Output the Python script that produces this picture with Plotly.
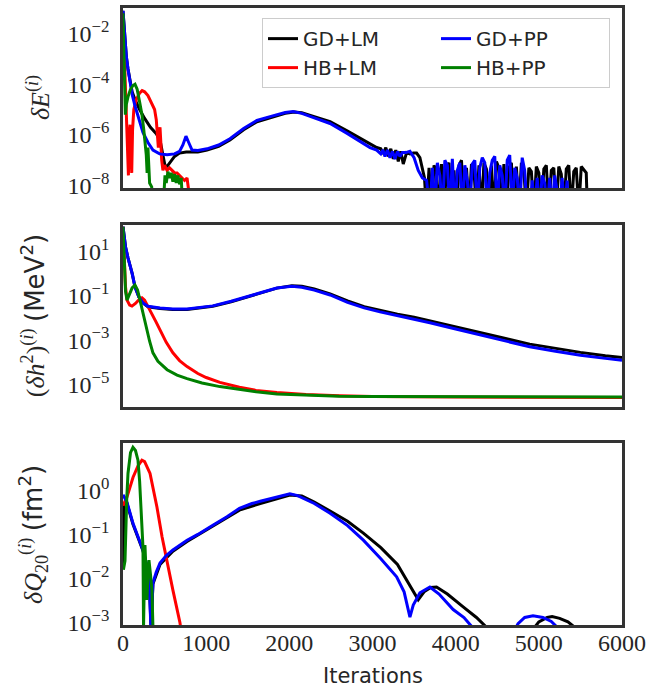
import numpy as np
import plotly.graph_objects as go

# ---------------- data (log10 of values) ----------------
# Top panel: delta E
dE_GDLM_it = [0, 20, 40, 60, 84, 110, 144, 200, 260, 330, 400, 445, 480, 510, 540, 580, 620, 680, 760, 830, 900,
              1010, 1150, 1286, 1450, 1610, 1800, 1950, 2060, 2150, 2300, 2490, 2700, 2970, 3050, 3100, 3130, 3160,
              3190, 3220, 3250, 3280, 3310, 3340, 3370, 3410, 3450, 3490, 3530, 3570, 3600, 3625, 3650,
              3680, 3710, 3740, 3770, 3800, 3830, 3860, 3890, 3920, 3950, 3980, 4010, 4040, 4070, 4100, 4130, 4160,
              4190, 4220, 4250, 4280, 4310, 4340, 4370, 4400, 4430, 4460, 4490, 4520, 4550, 4580, 4610, 4640, 4670,
              4700, 4730, 4760, 4790, 4820, 4850, 4880, 4910, 4940, 4970, 5000, 5030, 5060, 5090, 5120, 5150, 5180,
              5210, 5240, 5270, 5300, 5330, 5360, 5390, 5420, 5450, 5480, 5510, 5540, 5570, 5585]
dE_GDLM_lg = [-1.1, -2.2, -2.9, -3.4, -3.9, -4.3, -4.6, -5.0, -5.35, -5.7, -5.95, -6.2, -6.8, -7.3, -7.2, -7.0, -6.85,
              -6.72, -6.68, -6.68, -6.68, -6.6, -6.45, -6.2, -5.8, -5.48, -5.3, -5.15, -5.1, -5.13, -5.28, -5.48, -5.85,
              -6.35, -6.5, -6.55, -6.75, -6.5, -6.85, -6.55, -6.95, -6.6, -7.05, -6.65, -7.15, -6.7, -6.75, -6.72, -6.72,
              -6.9, -7.3, -7.7, -9.0,
              -7.3, -9.0, -7.2, -7.5, -9.0, -7.15, -9.0, -7.3, -7.1, -9.0, -7.4, -9.0, -7.2, -7.0, -9.0, -7.3, -9.0,
              -7.15, -7.4, -9.0, -7.2, -9.0, -7.1, -7.35, -9.0, -7.2, -9.0, -7.05, -7.3, -9.0, -7.15, -9.0, -7.3, -7.1,
              -9.0, -7.25, -9.0, -7.1, -7.4, -9.0, -7.3, -7.45, -9.0, -7.25, -7.5, -9.0, -7.35, -7.2, -9.0, -7.4, -7.3,
              -9.0, -7.25, -7.55, -9.0, -7.35, -7.2, -9.0, -7.45, -7.3, -9.0, -7.25, -7.4, -7.5, -9.0]

dE_HBLM_it = [0, 15, 30, 45, 55, 65, 75, 85, 95, 105, 115, 130, 160, 200, 230, 260, 300, 340, 380, 400, 415, 425,
              435, 445, 455, 465, 480, 500, 530, 560, 590, 620, 650, 680, 710, 740, 770, 790, 800]
dE_HBLM_lg = [-1.3, -2.8, -4.0, -5.2, -6.5, -7.6, -6.0, -5.6, -6.8, -7.5, -5.8, -5.0, -4.6, -4.35, -4.25, -4.3, -4.45,
              -4.7, -5.0, -5.4, -6.2, -6.5, -5.9, -5.7, -6.3, -7.0, -7.4, -7.2, -7.4, -7.3, -7.4, -7.5, -7.5, -7.6, -7.7,
              -7.8, -7.7, -8.2, -9.0]

dE_GDPP_it = [0, 20, 40, 60, 84, 110, 144, 190, 240, 300, 360, 440, 530, 620, 680, 720, 757, 790, 830, 900, 1010,
              1150, 1286, 1450, 1610, 1800, 1950, 2045, 2150, 2300, 2490, 2700, 2970, 3050, 3100, 3125, 3150, 3180,
              3210, 3240, 3270, 3300, 3330, 3360, 3400, 3450, 3500, 3550, 3600, 3650, 3690,
              3720, 3750, 3780, 3810, 3840, 3870, 3900, 3930, 3960, 3990, 4020, 4050, 4080, 4110, 4140, 4170, 4200,
              4230, 4260, 4290, 4320, 4350, 4380, 4410, 4440, 4470, 4500, 4530, 4560, 4590, 4620, 4650, 4680, 4710,
              4740, 4770, 4800, 4830, 4860, 4890, 4920, 4950, 4980, 5010, 5040, 5070, 5100, 5130, 5160, 5190, 5220,
              5250, 5280, 5310, 5340, 5355]
dE_GDPP_lg = [-1.1, -2.2, -2.9, -3.4, -3.9, -4.4, -4.85, -5.4, -5.9, -6.3, -6.6, -6.75, -6.78, -6.75, -6.65, -6.4,
              -6.05, -6.3, -6.6, -6.62, -6.55, -6.4, -6.15, -5.75, -5.43, -5.25, -5.12, -5.08, -5.15, -5.33, -5.55,
              -5.95, -6.5, -6.6, -6.75, -6.6, -6.85, -6.6, -6.9, -6.65, -6.95, -6.65, -6.85, -6.7, -6.7, -6.65, -6.9,
              -7.4, -7.7, -7.8, -9.0,
              -7.3, -9.0, -7.1, -7.6, -9.0, -7.0, -7.2, -9.0, -6.95, -9.0, -7.4, -7.1, -9.0, -7.2, -7.8, -9.0, -7.15,
              -7.0, -9.0, -7.3, -6.9, -7.1, -9.0, -7.5, -7.0, -6.85, -9.0, -7.2, -7.6, -9.0, -7.0, -6.8, -9.0, -7.3,
              -7.7, -9.0, -6.9, -7.4, -9.0, -9.0, -7.8, -9.0, -7.7, -9.0, -7.6, -7.9, -9.0, -7.7, -9.0, -7.6, -8.2,
              -9.0, -7.7, -9.0, -7.8, -9.0]

dE_HBPP_it = [0, 10, 20, 28, 40, 60, 90, 120, 144, 170, 200, 228, 250, 264, 280, 290, 300, 310, 320, 345, 360,
              480, 505, 520, 540, 560, 580, 600, 620, 640, 660, 680, 700, 720]
dE_HBPP_lg = [-1.2, -3.0, -4.5, -5.2, -4.8, -4.5, -4.2, -4.05, -4.0, -4.2, -4.7, -5.2, -5.8, -6.2, -6.8, -7.5, -6.5,
              -7.2, -7.9, -8.05, -9.0, -9.0, -7.6, -7.9, -7.45, -7.7, -7.5, -7.85, -7.55, -7.9, -7.6, -7.95, -7.7, -9.0]

# Middle panel: (delta h^2)
h2_GDLM_it = [0, 30, 60, 84, 110, 144, 190, 240, 300, 445, 600, 770, 900, 1080, 1300, 1490, 1700, 1850, 2030, 2150,
              2300, 2490, 2700, 2900, 3090, 3300, 3500, 3690, 4000, 4290, 4600, 4890, 5200, 5500, 5800, 6000]
h2_GDLM_lg = [2.1, 1.2, 0.7, 0.4, 0.0, -0.6, -1.05, -1.33, -1.5, -1.58, -1.62, -1.62, -1.57, -1.48, -1.28, -1.08,
              -0.83, -0.66, -0.56, -0.58, -0.7, -0.92, -1.24, -1.5, -1.67, -1.83, -1.97, -2.13, -2.4, -2.65, -2.93,
              -3.18, -3.38, -3.55, -3.7, -3.78]
h2_HBLM_it = [0, 15, 30, 48, 80, 108, 150, 200, 228, 260, 325, 400, 445, 520, 600, 680, 770, 900, 1000, 1165, 1400,
              1600, 1850, 2200, 2600, 3000, 4000, 5000, 6000]
h2_HBLM_lg = [2.1, 0.5, -0.6, -1.2, -1.42, -1.47, -1.35, -1.15, -1.1, -1.2, -1.64, -2.2, -2.54, -3.1, -3.57, -3.92,
              -4.19, -4.5, -4.68, -4.9, -5.12, -5.26, -5.36, -5.45, -5.5, -5.53, -5.56, -5.57, -5.58]
h2_GDPP_it = [0, 30, 60, 84, 110, 144, 190, 240, 300, 445, 600, 770, 900, 1080, 1300, 1490, 1700, 1850, 2030, 2150,
              2300, 2490, 2700, 2900, 3090, 3300, 3500, 3690, 4000, 4290, 4600, 4890, 5200, 5500, 5800, 6000]
h2_GDPP_lg = [2.1, 1.2, 0.7, 0.4, 0.0, -0.6, -1.05, -1.33, -1.48, -1.56, -1.6, -1.6, -1.55, -1.46, -1.25, -1.05,
              -0.8, -0.66, -0.58, -0.62, -0.75, -0.97, -1.3, -1.55, -1.73, -1.9, -2.05, -2.22, -2.5, -2.76, -3.04,
              -3.3, -3.5, -3.68, -3.82, -3.9]
h2_HBPP_it = [0, 15, 30, 48, 80, 110, 144, 175, 204, 240, 288, 320, 360, 420, 530, 650, 770, 950, 1165, 1400, 1600,
              1850, 2200, 2600, 3000, 4000, 5000, 6000]
h2_HBPP_lg = [2.1, 0.3, -0.8, -1.2, -0.95, -0.65, -0.52, -0.75, -1.2, -1.8, -2.54, -3.05, -3.57, -3.95, -4.33, -4.57,
              -4.73, -4.93, -5.09, -5.22, -5.32, -5.42, -5.48, -5.52, -5.54, -5.55, -5.56, -5.56]

# Bottom panel: delta Q20
q_GDLM_it = [0, 10, 48, 120, 180, 240, 300, 320, 337, 345, 360, 445, 600, 770, 1080, 1400, 1650, 1800, 2007, 2150,
             2300, 2490, 2700, 2890, 3100, 3300, 3410, 3500, 3550, 3620, 3700, 3770, 3900, 4090, 4250, 4370, 4950,
             5000, 5100, 5160, 5250, 5350, 5430]
q_GDLM_lg = [-1.7, -0.3, -0.3, -0.77, -1.07, -1.37, -1.82, -2.3, -3.1, -2.6, -2.12, -1.68, -1.38, -1.16, -0.82,
             -0.45, -0.3, -0.22, -0.11, -0.13, -0.27, -0.47, -0.7, -0.97, -1.3, -1.68, -2.03, -2.3, -2.48, -2.3, -2.2,
             -2.19, -2.35, -2.64, -2.88, -3.1, -3.1, -2.98, -2.88, -2.86, -2.9, -2.98, -3.1]
q_HBLM_it = [0, 48, 120, 180, 228, 260, 325, 370, 408, 470, 530, 600, 685, 700]
q_HBLM_lg = [-0.35, -0.15, 0.29, 0.55, 0.68, 0.65, 0.38, 0.0, -0.38, -1.06, -1.65, -2.26, -3.0, -3.2]
q_GDPP_it = [0, 48, 120, 180, 240, 300, 320, 337, 345, 360, 400, 445, 520, 600, 770, 900, 1080, 1250, 1400, 1550,
             1650, 1800, 2007, 2100, 2300, 2490, 2700, 2890, 3100, 3290, 3380, 3450, 3490, 3570, 3690, 3800, 3970,
             4100, 4200, 4700, 4750, 4830, 4930, 5050, 5150, 5220]
q_GDPP_lg = [-0.1, -0.27, -0.75, -1.05, -1.35, -1.8, -2.3, -3.2, -2.6, -2.1, -1.85, -1.65, -1.48, -1.35, -1.13,
             -1.0, -0.79, -0.6, -0.41, -0.3, -0.25, -0.18, -0.08, -0.12, -0.3, -0.52, -0.8, -1.13, -1.55, -1.96, -2.3,
             -2.87, -2.6, -2.32, -2.19, -2.35, -2.7, -2.88, -3.1, -3.2, -3.02, -2.88, -2.84, -2.88, -2.97, -3.1]
q_HBPP_it = [5, 24, 45, 60, 90, 120, 150, 180, 200, 216, 240, 247, 255, 264, 276, 288, 300, 312, 330, 348, 360]
q_HBPP_lg = [-1.8, -1.6, -0.2, 0.38, 0.85, 0.97, 0.9, 0.68, 0.2, -0.38, -1.28, -3.1, -1.5, -1.24, -1.8, -2.48, -1.9,
             -1.58, -1.9, -2.26, -3.1]

methods = ["GD+LM", "HB+LM", "GD+PP", "HB+PP"]
colors = {"GD+LM": "#000000", "HB+LM": "#ff0000", "GD+PP": "#0000ff", "HB+PP": "#008000"}
ranks = {"GD+LM": 1, "GD+PP": 2, "HB+LM": 3, "HB+PP": 4}

panels = [
    ("y", {"GD+LM": (dE_GDLM_it, dE_GDLM_lg), "HB+LM": (dE_HBLM_it, dE_HBLM_lg),
           "GD+PP": (dE_GDPP_it, dE_GDPP_lg), "HB+PP": (dE_HBPP_it, dE_HBPP_lg)}),
    ("y2", {"GD+LM": (h2_GDLM_it, h2_GDLM_lg), "HB+LM": (h2_HBLM_it, h2_HBLM_lg),
            "GD+PP": (h2_GDPP_it, h2_GDPP_lg), "HB+PP": (h2_HBPP_it, h2_HBPP_lg)}),
    ("y3", {"GD+LM": (q_GDLM_it, q_GDLM_lg), "HB+LM": (q_HBLM_it, q_HBLM_lg),
            "GD+PP": (q_GDPP_it, q_GDPP_lg), "HB+PP": (q_HBPP_it, q_HBPP_lg)}),
]

fig = go.Figure()
for pi, (yax, data) in enumerate(panels):
    xax = "x" if yax == "y" else "x" + yax[1:]
    for m in methods:
        it, lg = data[m]
        fig.add_trace(go.Scatter(
            x=it, y=10 ** np.array(lg, dtype=float), mode="lines", name=m,
            line=dict(color=colors[m], width=3), xaxis=xax, yaxis=yax,
            showlegend=(pi == 0), legendrank=ranks[m]))

serif = "Liberation Serif"
sans = "DejaVu Sans"
tick_font = dict(family=serif, size=24, color="#262626")
axcommon = dict(showline=True, mirror=True, linecolor="#333333", linewidth=2.5, showgrid=False,
                zeroline=False, ticks="", tickfont=tick_font)

def pw(e):
    return "10<sup>" + (str(e) if e >= 0 else "\u2212" + str(-e)) + "</sup>"

top_ticks = [-2, -4, -6, -8]
mid_ticks = [1, -1, -3, -5]
bot_ticks = [0, -1, -2, -3]
x_ticks = [0, 1000, 2000, 3000, 4000, 5000, 6000]

fig.update_layout(
    width=667, height=688, margin=dict(l=123, r=45, t=7, b=63),
    plot_bgcolor="white", paper_bgcolor="white", showlegend=True,
    xaxis=dict(domain=[0, 1], anchor="y", range=[0, 6000], showticklabels=False, **axcommon),
    xaxis2=dict(domain=[0, 1], anchor="y2", range=[0, 6000], showticklabels=False, **axcommon),
    xaxis3=dict(domain=[0, 1], anchor="y3", range=[0, 6000], tickvals=x_ticks,
                ticktext=[str(v) for v in x_ticks], ticklabelstandoff=-6, **axcommon),
    yaxis=dict(domain=[0.707, 0.998], type="log", range=[-8.1, -1.0], ticklabelstandoff=6,
               tickvals=[10.0 ** e for e in top_ticks], ticktext=[pw(e) for e in top_ticks], **axcommon),
    yaxis2=dict(domain=[0.353, 0.647], type="log", range=[-6.0, 2.17], ticklabelstandoff=6,
                tickvals=[10.0 ** e for e in mid_ticks], ticktext=[pw(e) for e in mid_ticks], **axcommon),
    yaxis3=dict(domain=[0.0, 0.2945], type="log", range=[-3.05, 1.07], ticklabelstandoff=6,
                tickvals=[10.0 ** e for e in bot_ticks], ticktext=[pw(e) for e in bot_ticks], **axcommon),
    legend=dict(orientation="h", x=0.976, xanchor="right", y=0.982, yanchor="top",
                bgcolor="white", bordercolor="#cccccc", borderwidth=1,
                font=dict(family=sans, size=20, color="#262626"),
                entrywidth=128, entrywidthmode="pixels", traceorder="normal"),
)

title_font = dict(family=serif, size=26, color="#262626")
fig.add_annotation(text="<i>\u03b4E</i><sup>(<i>i</i>)</sup>", x=-0.168, y=0.853, xref="paper", yref="paper",
                   textangle=-90, showarrow=False, xanchor="center", yanchor="middle", font=title_font)
fig.add_annotation(text="(<i>\u03b4h</i><sup>2</sup>)<sup>(<i>i</i>)</sup> <span style=\"font-family:DejaVu Sans\">(MeV<sup>2</sup>)</span>",
                   x=-0.180, y=0.5, xref="paper", yref="paper",
                   textangle=-90, showarrow=False, xanchor="center", yanchor="middle", font=title_font)
fig.add_annotation(text="<i>\u03b4Q</i><sub>20</sub><sup>(<i>i</i>)</sup> <span style=\"font-family:DejaVu Sans\">(fm<sup>2</sup>)</span>",
                   x=-0.180, y=0.146, xref="paper", yref="paper",
                   textangle=-90, showarrow=False, xanchor="center", yanchor="middle", font=title_font)
fig.add_annotation(text="Iterations", x=0.5, y=-0.0825, xref="paper", yref="paper", showarrow=False,
                   xanchor="center", yanchor="middle", font=dict(family=sans, size=21, color="#262626"))

fig.write_html("out.html")
